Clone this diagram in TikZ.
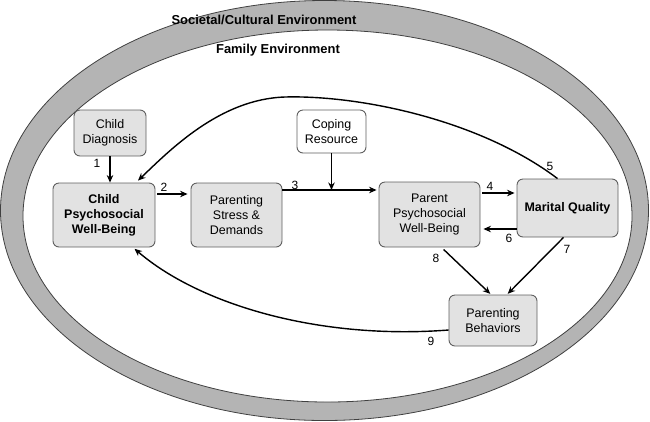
\documentclass[tikz,border=0pt]{standalone}
\usepackage{fontspec}
\setmainfont{Liberation Sans}
\usetikzlibrary{arrows.meta}

\definecolor{bandgray}{RGB}{180,180,180}
\definecolor{boxgray}{RGB}{226,226,226}
\definecolor{edgegray}{RGB}{95,95,95}

\tikzset{
    box/.style={draw=edgegray, line width=0.9bp, fill=boxgray, rounded corners=6bp,
        align=center, inner sep=1bp, font=\fontsize{12.5}{15}\selectfont},
    arr/.style={-{Stealth[length=7.5bp,width=6.5bp]}, line width=1.4bp},
    num/.style={font=\fontsize{12}{13}\selectfont, inner sep=0pt}
}

\begin{document}
\begin{tikzpicture}[x=1bp, y=-1bp]
    \useasboundingbox (0,0) rectangle (650,421);

    % 外层环境
    \fill[bandgray, even odd rule]
        (324.5,210.5) ellipse [x radius=324bp, y radius=210bp]
        (327.5,216) ellipse [x radius=304.5bp, y radius=186bp];
    \draw[line width=0.8bp, black!75] (324.5,210.5) ellipse [x radius=324bp, y radius=210bp];
    \draw[line width=0.8bp, black!75] (327.5,216) ellipse [x radius=304.5bp, y radius=186bp];

    \node[font=\fontsize{13}{15}\selectfont\bfseries] (soc) at (264,20) {Societal/Cultural Environment};
    \node[font=\fontsize{13}{15}\selectfont\bfseries] (fam) at (278,50) {Family Environment};

    % 方框
    \node[box, minimum width=72bp, minimum height=46bp] (diag) at (110,133) {Child\\Diagnosis};
    \node[box, minimum width=102bp, minimum height=64bp, font=\fontsize{12.5}{15}\selectfont\bfseries] (cpw) at (104,215) {Child\\Psychosocial\\Well-Being};
    \node[box, minimum width=91bp, minimum height=64bp] (psd) at (236.5,215) {Parenting\\Stress \&\\Demands};
    \node[box, fill=white, minimum width=69bp, minimum height=43bp] (cope) at (331.5,131.5) {Coping\\Resource};
    \node[box, minimum width=101bp, minimum height=65bp] (ppw) at (429.5,214.5) {Parent\\Psychosocial\\Well-Being};
    \node[box, minimum width=101bp, minimum height=58bp, font=\fontsize{12.5}{15}\selectfont\bfseries] (mq) at (567.5,208) {Marital Quality};
    \node[box, minimum width=88bp, minimum height=51bp] (pb) at (493,320.5) {Parenting\\Behaviors};

    % 箭头
    \draw[arr] (diag.south) -- (diag.south |- cpw.north);
    \draw[arr, shorten <=2bp, shorten >=3bp] ([yshift=21bp]cpw.east) -- ([yshift=21bp]cpw.east -| psd.west);
    \coordinate (s3) at ([yshift=25bp]psd.east);
    \draw[arr, shorten >=2bp] (s3) -- (s3 -| ppw.west);
    \draw[arr] (cope.south) -- (cope.south |- s3);
    \draw[arr, shorten <=2bp, shorten >=2bp] ([yshift=21.5bp]ppw.east) -- ([yshift=21.5bp]ppw.east -| mq.west);
    \draw[arr, shorten >=3bp] ([yshift=-21bp]mq.west) -- ([yshift=-21bp]mq.west -| ppw.east);
    \draw[arr] ([xshift=-10bp]mq.north) .. controls (480,120) and (360,95) .. (285,97)
        .. controls (220,99) and (170,150) .. ([xshift=34bp, yshift=2bp]cpw.north);
    \draw[arr, shorten >=1bp] ([xshift=-4bp]mq.south) -- ([xshift=14bp]pb.north);
    \draw[arr, shorten <=3bp, shorten >=1bp] ([xshift=12bp]ppw.south) -- ([xshift=-2bp]pb.north);
    \draw[arr, shorten >=2bp] ([yshift=-9.5bp]pb.west) .. controls (320,340) and (200,305) .. ([xshift=29bp]cpw.south);

    % 编号
    \node[num] (n1) at (97,163) {1};
    \node[num] (n2) at (164,187) {2};
    \node[num] (n3) at (295,185) {3};
    \node[num] (n4) at (490,186) {4};
    \node[num] (n5) at (550,166) {5};
    \node[num] (n6) at (509,238) {6};
    \node[num] (n7) at (567,249) {7};
    \node[num] (n8) at (436,258) {8};
    \node[num] (n9) at (431,341) {9};
\end{tikzpicture}
\end{document}
